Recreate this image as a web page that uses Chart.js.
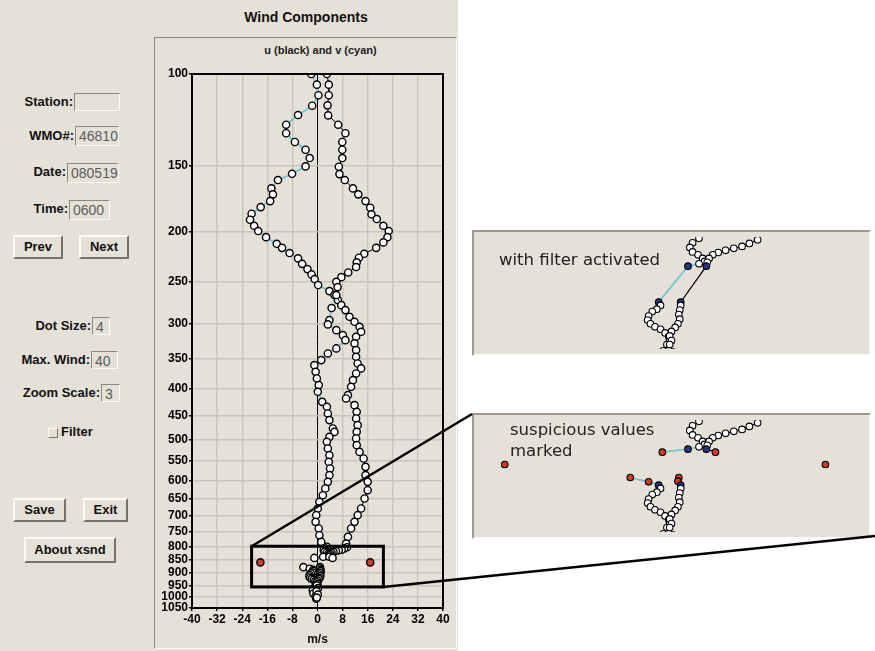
<!DOCTYPE html>
<html>
<head>
<meta charset="utf-8">
<title>Wind Components</title>
<script src="https://cdn.jsdelivr.net/npm/chart.js@4.4.1/dist/chart.umd.min.js"></script>
<style>
  body { margin: 0; background: #fff; font-family: "Liberation Sans", Arial, Helvetica, sans-serif; }
  #page { position: relative; width: 875px; height: 651px; overflow: hidden; }
  #app { position: absolute; left: 0; top: 0; width: 458px; height: 651px; background: #e5e0d8; }
  .lbl { position: absolute; left: 0; font-size: 13px; font-weight: bold; color: #111; text-align: right; line-height: 16px; }
  .entry { position: absolute; box-sizing: border-box; border: 1px solid; border-color: #8e8880 #fbfaf8 #fbfaf8 #8e8880; font-size: 14px; color: #5c5c5c; padding-left: 3px; line-height: 18px; }
  .btn { position: absolute; box-sizing: border-box; border: 2px solid; border-color: #fbfaf7 #77726b #77726b #fbfaf7; font-size: 13px; font-weight: bold; color: #111; text-align: center; line-height: 20px; }
  #frame { position: absolute; left: 154px; top: 37px; width: 303px; height: 612px; box-sizing: border-box; border: 1px solid; border-color: #8e8880 #fbfaf8 #fbfaf8 #8e8880; }
  #main { position: absolute; left: 155px; top: 38px; }
  .inset { position: absolute; left: 472px; width: 399px; height: 126px; box-sizing: border-box; border: 2px solid; border-color: #9d978f #fbfaf8 #fbfaf8 #9d978f; background: #e5e0d8; }
  .inset canvas { position: absolute; left: 0; top: 0; }
  .note { position: absolute; font-family: "DejaVu Sans", sans-serif; font-size: 16.5px; color: #222; line-height: 21px; }
  #overlay { position: absolute; left: 0; top: 0; pointer-events: none; }
</style>
</head>
<body>
<div id="page">
  <div id="app">
    <div style="position:absolute;left:206px;top:9px;width:200px;text-align:center;font-size:14px;font-weight:bold;color:#111;">Wind Components</div>

    <div class="lbl" style="top:94px;width:73px;">Station:</div>
    <div class="entry" style="left:74px;top:93px;width:46px;height:18px;"></div>
    <div class="lbl" style="top:128px;width:74px;">WMO#:</div>
    <div class="entry" style="left:75px;top:126px;width:44px;height:20px;">46810</div>
    <div class="lbl" style="top:164px;width:66px;">Date:</div>
    <div class="entry" style="left:67px;top:163px;width:52px;height:20px;">080519</div>
    <div class="lbl" style="top:201px;width:68px;">Time:</div>
    <div class="entry" style="left:69px;top:200px;width:41px;height:20px;">0600</div>

    <div class="btn" style="left:13px;top:235px;width:50px;height:24px;">Prev</div>
    <div class="btn" style="left:79px;top:235px;width:50px;height:24px;">Next</div>

    <div class="lbl" style="top:318px;width:91px;">Dot Size:</div>
    <div class="entry" style="left:92px;top:317px;width:18px;height:18px;">4</div>
    <div class="lbl" style="top:352px;width:90px;">Max. Wind:</div>
    <div class="entry" style="left:91px;top:351px;width:27px;height:18px;">40</div>
    <div class="lbl" style="top:385px;width:100px;">Zoom Scale:</div>
    <div class="entry" style="left:101px;top:384px;width:19px;height:18px;">3</div>

    <div style="position:absolute;left:48px;top:428px;width:10px;height:10px;box-sizing:border-box;border:1px solid;border-color:#fbfaf7 #77726b #77726b #fbfaf7;"></div>
    <div class="lbl" style="left:61px;top:424px;text-align:left;">Filter</div>

    <div class="btn" style="left:13px;top:498px;width:53px;height:24px;">Save</div>
    <div class="btn" style="left:83px;top:498px;width:45px;height:24px;">Exit</div>
    <div class="btn" style="left:24px;top:537px;width:92px;height:26px;line-height:22px;">About xsnd</div>

    <div id="frame"></div>
    <div style="position:absolute;left:220px;top:44px;width:201px;text-align:center;font-size:11px;font-weight:bold;color:#222;">u (black) and v (cyan)</div>
    <canvas id="main" width="301" height="610"></canvas>
  </div>

  <div class="inset" style="top:230px;">
    <canvas id="filtered" width="395" height="122"></canvas>
    <div class="note" style="left:25px;top:17px;">with filter activated</div>
  </div>
  <div class="inset" style="top:413px;">
    <canvas id="marked" width="395" height="122"></canvas>
    <div class="note" style="left:36px;top:4px;">suspicious values<br>marked</div>
  </div>

  <canvas id="overlay" width="875" height="651"></canvas>
</div>

<script>
// pressure levels (hPa) and wind components (m/s)
const vPres = [100, 104.8, 109.8, 115.0, 119.8, 125.0, 129.8, 134.9, 139.6, 144.8,
  150.2, 155.2, 159.5, 165.5, 169.9, 175.0, 179.7, 185.0, 190.0, 195.1,
  199.7, 205.1, 211.2, 215.0, 220.0, 225.2, 230.7, 236.1, 241.7, 246.7,
  253.3, 260.1, 264.7, 270.6, 280.3, 295.6, 301.2, 308.9, 315.8, 322.8,
  334.8, 342.3, 352.5, 360.4, 371.2, 382.1, 393.5, 405.3, 423.6, 433.0,
  445.8, 459.1, 476.3, 483.5, 494.2, 505.2, 520.2, 535.7, 551.8, 568.0,
  585.0, 602.5, 620.4, 638.9, 658.0, 677.5, 697.7, 718.6, 739.9, 762.0,
  784.9, 801.6, 807.4, 813.3, 819.2, 823.1, 827.8, 831.8, 835.0, 838.1,
  842.2, 859.0, 877.1, 883.2, 887.9, 892.6, 897.9, 901.4, 908.0, 913.8,
  919.2, 923.7, 927.3, 932.8, 938.2, 944.2, 950.3, 960, 972, 985, 997, 1008];
const vWind = [-2.0, -0.2, 0.3, -1.7, -6.2, -10.0, -10.0, -7.2, -3.8, -2.5,
  -3.8, -8.1, -12.6, -14.7, -14.2, -15.1, -18.1, -21.0, -21.5, -20.2,
  -18.9, -16.4, -13.0, -11.3, -8.9, -6.2, -4.9, -3.2, -1.9, -0.9,
  0.2, 3.8, 5.4, 6.5, 4.5, 3.8, 3.3, 6.0, 8.1, 8.9,
  6.0, 3.3, 1.2, -1.0, -0.6, -0.2, 0.4, 0.1, 1.5, 3.0,
  3.3, 3.8, 4.9, 5.4, 3.8, 3.0, 3.3, 3.8, 3.6, 4.0,
  3.8, 3.3, 2.5, 1.7, 0.6, 0.1, -0.4, -0.6, 0.4, 0.6,
  1.2, 3.0, 2.3, 2.0, 2.3, 2.9, 3.4, 3.6, 3.0, 1.8,
  -1.0, -18.2, -4.5, -2.5, -1.4, -1.2, -1.6, -2.1, -2.5, -2.6,
  -2.3, -1.8, -1.2, -0.7, -0.3, -0.2, -0.5, -0.9, -1.5, -1.3, -0.6, -0.4];

const uPres = [100, 104.8, 109.8, 114.8, 120.0, 125.0, 129.8, 134.9, 139.6, 144.8,
  150.4, 155.4, 159.5, 165.5, 169.9, 175.0, 180.2, 185.5, 189.4, 195.1,
  199.7, 205.1, 209.9, 215.0, 220.7, 224.6, 229.2, 234.0, 239.6, 244.6,
  249.7, 255.6, 264.7, 276.7, 282.8, 291.3, 297.8, 304.4, 311.2, 318.1,
  327.5, 337.3, 347.4, 357.7, 365.6, 373.8, 385.0, 396.5, 411.3, 417.3,
  429.8, 442.7, 455.7, 469.4, 483.4, 497.7, 512.6, 528.0, 543.6, 564.0,
  585.0, 602.5, 625.0, 648.3, 677.5, 697.7, 718.6, 739.9, 767.8, 790.5,
  803.5, 808.2, 812.1, 814.5, 817.2, 820.0, 823.1, 827.8, 833.0, 838.1,
  842.2, 859.0, 877.1, 882.3, 887.9, 892.6, 899.2, 905.8, 912.5, 919.2,
  924.6, 930.5, 937.3, 944.2, 950.3, 962, 975, 990, 1003];
const uWind = [3.0, 3.6, 3.6, 3.2, 3.4, 6.6, 8.9, 7.9, 7.9, 7.9,
  6.8, 7.0, 8.7, 11.3, 13.0, 15.3, 16.8, 17.2, 18.9, 21.0,
  22.7, 22.3, 21.0, 18.7, 14.9, 13.2, 12.5, 12.3, 9.8, 7.6,
  6.0, 6.4, 6.0, 7.6, 8.9, 10.2, 11.8, 13.4, 13.9, 12.3,
  11.8, 12.3, 12.3, 12.8, 13.9, 12.3, 11.3, 10.7, 9.7, 9.1,
  11.8, 12.5, 12.3, 12.8, 12.5, 12.3, 12.5, 13.4, 14.7, 15.3,
  15.3, 16.0, 16.0, 15.0, 13.9, 12.8, 11.8, 10.7, 9.7, 9.1,
  9.4, 8.5, 7.7, 6.8, 5.9, 5.1, 4.5, 4.1, 3.9, 3.8,
  4.8, 16.8, 0.8, 0.7, 1.0, 1.0, 0.9, 0.8, 0.9, 0.7,
  0.4, 0.0, -0.2, 0.0, -0.2, 0.2, -0.3, 0.1, -0.2];

// quality check results (pressure levels)
const vFlagged = [842.2, 859.0, 877.1, 883.2];
const uFlagged = [842.2, 859.0, 877.1, 882.3];
const spikePres = [859.0];
const keptPres = [838.1, 887.9];

const presTicks = [100, 150, 200, 250, 300, 350, 400, 450, 500, 550, 600, 650, 700, 750, 800, 850, 900, 950, 1000, 1050];
const windRange = [-40, 40];
const boxWind = [-21, 21];
const boxPres = [800, 957];

const gridColor = "#cdc3b7";
const cyan = "#74c6d6";
const red = "#d4372b";
const blue = "#29338a";
const hidden = "rgba(0,0,0,0)";

function makeSeries(pres, wind, flagged, color, width, mode) {
  let pts = pres.map((p, i) => ({ x: wind[i], y: p }));
  if (mode === "filtered") {
    pts = pts.filter((pt) => !flagged.includes(pt.y));
  }
  return {
    data: pts,
    showLine: true,
    borderColor: color,
    borderWidth: width,
    pointRadius: mode === "main" ? 3.6 : 3.3,
    pointBorderWidth: mode === "main" ? 1.4 : 1.1,
    pointBorderColor: "#000",
    pointBackgroundColor: (ctx) => {
      const p = ctx.raw ? ctx.raw.y : null;
      if (mode === "main") return spikePres.includes(p) ? red : "#fff";
      if (mode === "marked" && flagged.includes(p)) return red;
      if (keptPres.includes(p)) return blue;
      return "#fff";
    },
    segment: {
      borderColor: (ctx) =>
        spikePres.includes(pts[ctx.p0DataIndex].y) || spikePres.includes(pts[ctx.p1DataIndex].y)
          ? hidden
          : undefined,
    },
  };
}

function drawConnectors(chart, x0, y0, x1, y1) {
  const page = document.getElementById("page").getBoundingClientRect();
  const cv = chart.canvas.getBoundingClientRect();
  const inset = document.querySelectorAll(".inset")[1].getBoundingClientRect();
  const ctx = document.getElementById("overlay").getContext("2d");
  const ox = cv.left - page.left;
  const oy = cv.top - page.top;
  ctx.clearRect(0, 0, 875, 651);
  ctx.strokeStyle = "#000";
  ctx.lineWidth = 2.5;
  ctx.beginPath();
  ctx.moveTo(ox + x0, oy + y0);
  ctx.lineTo(inset.left - page.left, inset.top - page.top + 1);
  ctx.moveTo(ox + x1, oy + y1);
  ctx.lineTo(inset.right - page.left + 4, inset.bottom - page.top - 3);
  ctx.stroke();
}

const zoomBox = {
  id: "zoomBox",
  afterDatasetsDraw(chart) {
    const { ctx, chartArea: a, scales } = chart;
    const x0 = scales.x.getPixelForValue(boxWind[0]);
    const x1 = scales.x.getPixelForValue(boxWind[1]);
    const y0 = scales.y.getPixelForValue(boxPres[0]);
    const y1 = scales.y.getPixelForValue(boxPres[1]);
    ctx.save();
    ctx.strokeStyle = "#000";
    ctx.lineWidth = 2;
    ctx.strokeRect(a.left, a.top, a.right - a.left, a.bottom - a.top);
    ctx.lineWidth = 3;
    ctx.strokeRect(x0, y0, x1 - x0, y1 - y0);
    ctx.restore();
    drawConnectors(chart, x0, y0, x1, y1);
  },
};

const tickFont = { family: "'Liberation Sans', Arial, sans-serif", size: 12, weight: "bold" };

new Chart(document.getElementById("main"), {
  type: "scatter",
  data: {
    datasets: [
      makeSeries(uPres, uWind, uFlagged, "#000", 1, "main"),
      makeSeries(vPres, vWind, vFlagged, cyan, 2, "main"),
    ],
  },
  options: {
    responsive: false,
    animation: false,
    layout: { padding: { top: 36, right: 13, left: 0, bottom: 0 } },
    plugins: { legend: { display: false }, tooltip: { enabled: false } },
    scales: {
      x: {
        type: "linear",
        min: windRange[0],
        max: windRange[1],
        ticks: { stepSize: 8, color: "#000", font: tickFont, padding: 1 },
        grid: {
          color: (c) => (c.tick && c.tick.value === 0 ? "#000" : gridColor),
          lineWidth: (c) => (c.tick && c.tick.value === 0 ? 1 : 1.4),
          tickLength: 3,
          tickColor: "#000",
        },
        border: { color: "#000", width: 2 },
        title: {
          display: true,
          text: "m/s",
          color: "#111",
          font: { family: "'Liberation Sans', Arial, sans-serif", size: 12, weight: "bold" },
          padding: { top: 0, bottom: 1 },
        },
        afterFit: (s) => { s.height = 40; },
      },
      y: {
        type: "logarithmic",
        reverse: true,
        min: presTicks[0],
        max: presTicks[presTicks.length - 1],
        afterBuildTicks: (s) => { s.ticks = presTicks.map((v) => ({ value: v })); },
        ticks: { autoSkip: false, color: "#000", font: tickFont, padding: 1, callback: (v) => String(v) },
        grid: { color: gridColor, lineWidth: 1.4, tickLength: 3, tickColor: "#000" },
        border: { color: "#000", width: 2 },
        afterFit: (s) => { s.width = 37; },
      },
    },
  },
  plugins: [zoomBox],
});

function insetChart(id, mode) {
  return new Chart(document.getElementById(id), {
    type: "scatter",
    data: {
      datasets: [
        makeSeries(uPres, uWind, uFlagged, "#000", 1.2, mode),
        makeSeries(vPres, vWind, vFlagged, cyan, 1.8, mode),
      ],
    },
    options: {
      responsive: false,
      animation: false,
      layout: { padding: 0 },
      plugins: { legend: { display: false }, tooltip: { enabled: false } },
      scales: {
        x: { display: false, type: "linear", min: boxWind[0], max: boxWind[1] },
        y: { display: false, type: "logarithmic", reverse: true, min: boxPres[0], max: boxPres[1] },
      },
    },
  });
}

insetChart("filtered", "filtered");
insetChart("marked", "marked");
</script>
</body>
</html>
